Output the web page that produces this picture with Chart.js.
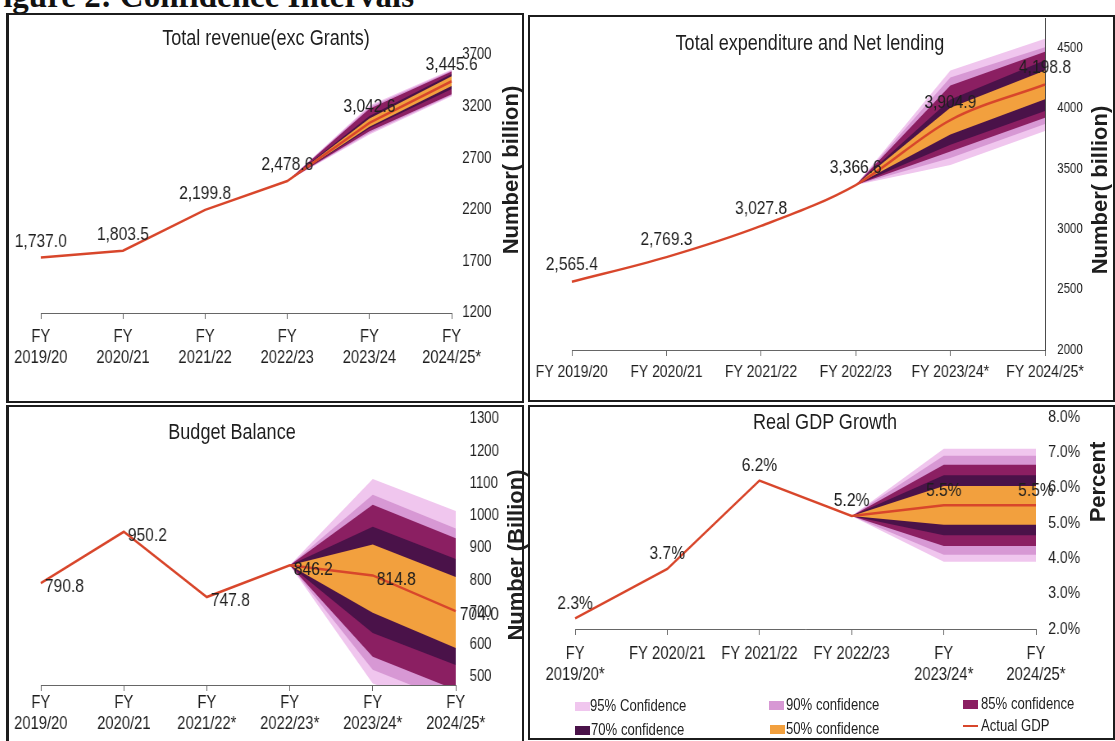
<!DOCTYPE html>
<html><head><meta charset="utf-8">
<script src="https://cdn.jsdelivr.net/npm/chart.js@4.4.1/dist/chart.umd.min.js"></script>
<style>
html,body{margin:0;padding:0;background:#fff;}
body{width:1115px;height:741px;position:relative;overflow:hidden;font-family:"Liberation Sans",Arial,sans-serif;color:#1e1e1e;}
.box{position:absolute;border:2px solid #1c1c1c;box-sizing:border-box;}
canvas{position:absolute;transform:scaleX(0.82);transform-origin:0 0;}
.title{position:absolute;font-size:22px;white-space:nowrap;transform:translate(-50%,-50%) scaleX(0.82);}
.ytitle{position:absolute;font-size:22px;font-weight:bold;white-space:nowrap;transform:translate(-50%,-50%) rotate(-90deg);}
.leg{position:absolute;font-size:16px;white-space:nowrap;line-height:18px;transform:scaleX(0.82);transform-origin:0 50%;}
.sw{position:absolute;width:15px;height:9px;}
#fig{position:absolute;left:-17px;top:-20px;font-family:"Liberation Serif",serif;font-weight:bold;font-size:33px;line-height:33px;white-space:nowrap;color:#111;}
</style></head><body>
<div id="fig">Figure 2: Confidence Intervals</div>
<div class="box" style="left:6px;top:13px;width:518px;height:390px;border-left-width:3px"></div>
<div class="box" style="left:528px;top:15px;width:587px;height:387px"></div>
<div class="box" style="left:6px;top:405px;width:518px;height:340px;border-left-width:3px"></div>
<div class="box" style="left:528px;top:405px;width:587px;height:335px"></div>

<canvas id="c1" width="628" height="388" style="left:8px;top:14px"></canvas>
<canvas id="c2" width="711" height="385" style="left:530px;top:16px"></canvas>
<canvas id="c3" width="628" height="335" style="left:8px;top:406px"></canvas>
<canvas id="c4" width="711" height="335" style="left:530px;top:406px"></canvas>

<div class="title" style="left:266px;top:38px">Total revenue(exc Grants)</div>
<div class="title" style="left:810px;top:43px">Total expenditure and Net lending</div>
<div class="title" style="left:232px;top:432px">Budget Balance</div>
<div class="title" style="left:825px;top:422px">Real GDP Growth</div>

<div class="ytitle" style="left:511px;top:170px">Number( billion)</div>
<div class="ytitle" style="left:1100px;top:190px">Number( billion)</div>
<div class="ytitle" style="left:516px;top:555px">Number (Billion)</div>
<div class="ytitle" style="left:1098px;top:482px">Percent</div>

<div class="sw" style="left:575px;top:702px;background:#f0c6ee"></div><div class="leg" style="left:590px;top:697px">95% Confidence</div>
<div class="sw" style="left:769px;top:701px;background:#d798d4"></div><div class="leg" style="left:786px;top:696px">90% confidence</div>
<div class="sw" style="left:963px;top:700px;background:#8b1f62"></div><div class="leg" style="left:981px;top:695px">85% confidence</div>
<div class="sw" style="left:575px;top:726px;background:#4a1249"></div><div class="leg" style="left:591px;top:721px">70% confidence</div>
<div class="sw" style="left:770px;top:725px;background:#f2a03e"></div><div class="leg" style="left:786px;top:720px">50% confidence</div>
<div class="sw" style="left:963px;top:725px;height:2px;background:#d8462b"></div><div class="leg" style="left:981px;top:717px">Actual GDP</div>

<script>
const FONT = '"Liberation Sans", Arial, sans-serif';
const C95 = '#f0c6ee', C90 = '#d798d4', C85 = '#8b1f62', C70 = '#4a1249', C50 = '#f2a03e', CLINE = '#d8462b';

// ---- Total revenue (exc Grants)
const revCategories = [["FY","2019/20"],["FY","2020/21"],["FY","2021/22"],["FY","2022/23"],["FY","2023/24"],["FY","2024/25*"]];
const revActual = [1737.0, 1803.5, 2199.8, 2478.6, 3042.6, 3445.6];
const revBand95 = [[2930, 3210], [3300, 3560]];
const revBand90 = [[2945, 3195], [3310, 3550]];
const revBand85 = [[2960, 3180], [3320, 3540]];
const revBand70 = [[2990, 3110], [3370, 3515]];
const revBand50 = [[3005, 3085], [3400, 3495]];
const revYTicks = [1200, 1700, 2200, 2700, 3200, 3700];

// ---- Total expenditure and Net lending
const expCategories = ["FY 2019/20","FY 2020/21","FY 2021/22","FY 2022/23","FY 2023/24*","FY 2024/25*"];
const expActual = [2565.4, 2769.3, 3027.8, 3366.6, 3904.9, 4198.8];
const expBand95 = [[3533, 4316], [3814, 4578]];
const expBand90 = [[3590, 4258], [3873, 4508]];
const expBand85 = [[3645, 4190], [3923, 4470]];
const expBand70 = [[3700, 4074], [3980, 4400]];
const expBand50 = [[3785, 4007], [4077, 4316]];
const expYTicks = [2000, 2500, 3000, 3500, 4000, 4500];

// ---- Budget Balance
const balCategories = [["FY","2019/20"],["FY","2020/21"],["FY","2021/22*"],["FY","2022/23*"],["FY","2023/24*"],["FY","2024/25*"]];
const balActual = [790.8, 950.2, 747.8, 846.2, 814.8, 704.0];
const balBand95 = [[480, 1114], [380, 1015]];
const balBand90 = [[522, 1065], [420, 960]];
const balBand85 = [[563, 1034], [460, 930]];
const balBand70 = [[636, 966], [537, 866]];
const balBand50 = [[699, 911], [590, 810]];
const balYTicks = [500, 600, 700, 800, 900, 1000, 1100, 1200, 1300];

// ---- Real GDP Growth
const gdpCategories = [["FY","2019/20*"],"FY 2020/21","FY 2021/22","FY 2022/23",["FY","2023/24*"],["FY","2024/25*"]];
const gdpActual = [2.3, 3.7, 6.2, 5.2, 5.5, 5.5];
const gdpBand95 = [[3.9, 7.1], [3.9, 7.1]];
const gdpBand90 = [[4.1, 6.9], [4.1, 6.9]];
const gdpBand85 = [[4.35, 6.65], [4.35, 6.65]];
const gdpBand70 = [[4.65, 6.35], [4.65, 6.35]];
const gdpBand50 = [[4.95, 6.05], [4.95, 6.05]];
const gdpYTicks = [2, 3, 4, 5, 6, 7, 8];

// fan starts at the last actual year (index 3); bands given for the two forecast years
function bandSeries(actual, pairs, k) {
  return actual.map((v, i) => i < 3 ? null : (i === 3 ? v : pairs[i - 4][k]));
}

function labelPlugin(fmt, dx, dy, align, size) {
  return {
    id: 'ptlabels',
    afterDatasetsDraw(chart) {
      const meta = chart.getDatasetMeta(0);
      const data = chart.data.datasets[0].data;
      const ctx = chart.ctx;
      ctx.save();
      ctx.font = size + 'px ' + FONT;
      ctx.fillStyle = '#1e1e1e';
      ctx.textAlign = align;
      ctx.textBaseline = 'middle';
      meta.data.forEach((pt, i) => ctx.fillText(fmt(data[i]), pt.x + dx, pt.y + dy));
      ctx.restore();
    }
  };
}

function makeChart(id, o) {
  const datasets = [{
    data: o.actual, borderColor: CLINE, borderWidth: 2.5, pointRadius: 0, fill: false,
    tension: 0, cubicInterpolationMode: o.smooth ? 'monotone' : 'default'
  }];
  [[o.b50, C50], [o.b70, C70], [o.b85, C85], [o.b90, C90], [o.b95, C95]].forEach(([pairs, col]) => {
    datasets.push({data: bandSeries(o.actual, pairs, 1), borderWidth: 0, pointRadius: 0, fill: '+1', backgroundColor: col, borderColor: col});
    datasets.push({data: bandSeries(o.actual, pairs, 0), borderWidth: 0, pointRadius: 0, fill: false, borderColor: col});
  });
  return new Chart(document.getElementById(id), {
    type: 'line',
    data: {labels: o.categories, datasets},
    plugins: [labelPlugin(o.fmt, o.dx, o.dy, o.align, o.lblSize)],
    options: {
      responsive: false, animation: false, devicePixelRatio: 1,
      layout: {autoPadding: false, padding: {left: o.padL, top: o.padT, right: 0, bottom: 0}},
      plugins: {legend: {display: false}, tooltip: {enabled: false}},
      scales: {
        x: {
          type: 'category', offset: false,
          grid: {display: true, drawOnChartArea: false, drawTicks: true, tickLength: 6, color: '#666', lineWidth: 1},
          border: {display: true, color: '#666', width: 1},
          ticks: {color: '#1e1e1e', font: {family: FONT, size: o.xSize, lineHeight: 1.2}, padding: o.xPad, maxRotation: 0, autoSkip: false},
          afterFit: s => { s.height = o.xH; s.paddingLeft = 0; s.paddingRight = 0; }
        },
        y: {
          position: 'right', min: o.min, max: o.max,
          grid: {display: false, drawTicks: false},
          border: {display: !!o.yBorder, color: '#333', width: 1},
          ticks: {color: '#1e1e1e', font: {family: FONT, size: o.ySize}, padding: o.yPad, callback: o.yFmt},
          afterBuildTicks: s => { s.ticks = o.yTicks.map(v => ({value: v})); },
          afterFit: s => { s.width = o.yW; s.paddingTop = 0; s.paddingBottom = 0; }
        }
      }
    }
  });
}

const comma1 = v => v.toLocaleString('en-US', {minimumFractionDigits: 1, maximumFractionDigits: 1});

// canvases are drawn 1/0.82 wider and squeezed horizontally by CSS (narrow type look)
makeChart('c1', {categories: revCategories, actual: revActual, b95: revBand95, b90: revBand90, b85: revBand85, b70: revBand70, b50: revBand50,
  yTicks: revYTicks, min: 1200, max: 3700, padL: 40, padT: 41, yW: 87, xH: 89, xPad: 7, xSize: 18, ySize: 16, yPad: 13,
  yFmt: v => String(v), fmt: comma1, dx: 0, dy: -16, align: 'center', lblSize: 19});

makeChart('c2', {categories: expCategories, actual: expActual, b95: expBand95, b90: expBand90, b85: expBand85, b70: expBand70, b50: expBand50,
  yTicks: expYTicks, min: 2000, max: 4750, padL: 51, padT: 2, yW: 83, xH: 51, xPad: 6, xSize: 17, ySize: 14, yPad: 15, yBorder: true, smooth: true,
  yFmt: v => String(v), fmt: comma1, dx: 0, dy: -17, align: 'center', lblSize: 19});

makeChart('c3', {categories: balCategories, actual: balActual, b95: balBand95, b90: balBand90, b85: balBand85, b70: balBand70, b50: balBand50,
  yTicks: balYTicks, min: 475, max: 1300, padL: 40, padT: 13, yW: 82, xH: 56, xPad: 1, xSize: 18, ySize: 16, yPad: 17,
  yFmt: v => String(v), fmt: v => v.toFixed(1), dx: 5, dy: 4, align: 'left', lblSize: 19});

makeChart('c4', {categories: gdpCategories, actual: gdpActual, b95: gdpBand95, b90: gdpBand90, b85: gdpBand85, b70: gdpBand70, b50: gdpBand50,
  yTicks: gdpYTicks, min: 2, max: 8, padL: 55, padT: 11, yW: 94, xH: 112, xPad: 8, xSize: 18, ySize: 17, yPad: 15,
  yFmt: v => v.toFixed(1) + '%', fmt: v => v.toFixed(1) + '%', dx: 0, dy: -15, align: 'center', lblSize: 19});
</script>
</body></html>
